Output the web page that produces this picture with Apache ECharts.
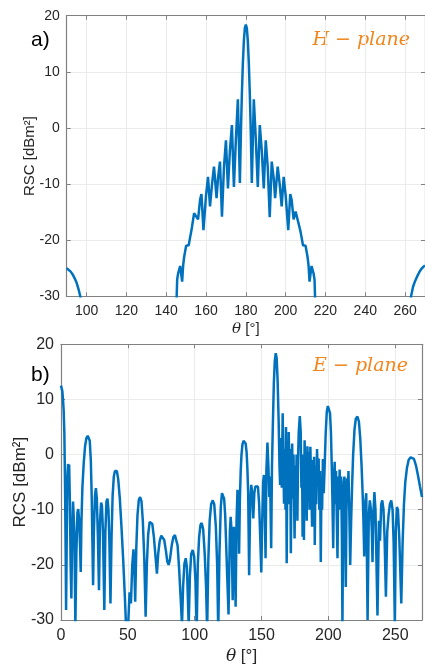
<!DOCTYPE html>
<html>
<head>
<meta charset="utf-8">
<script src="https://cdn.jsdelivr.net/npm/echarts@6/dist/echarts.min.js"></script>
<style>html,body{margin:0;padding:0;background:#fff}#c{width:425px;height:666px}</style>
</head>
<body>
<div id="c"></div>
<script>
// ---- (a) H-plane ----
const thetaH = [90,91,92,93,94,95,96,97,98,99,144,145,145.5,146,147,148,148.5,149,150,151.3,152,152.7,154,155,156,157,157.7,158.7,160,161,162,163,164,165.3,166,167,168,169,170,171,172,173,174,175,176,177,177.5,178,178.5,179,179.5,180,180.5,181,181.5,182,182.5,183,184,185,186,187,188,189,190,191,192,193,194,194.7,196,197,198,199,200,201.3,202.3,203,204,205,206,207.3,208,208.7,210,211,211.5,212,213,214,214.5,215,216,261,262,263,264,265,266,267,268,269,270];
const rcsH = [-25.0,-25.2,-25.6,-26.1,-26.8,-27.6,-28.8,-30.3,-33,-40,-40,-33,-27,-25.9,-24.6,-27.4,-24.5,-23,-21,-20.9,-19.5,-18.2,-15.2,-14.9,-16.3,-12.8,-11.8,-18.2,-12,-8.7,-14,-10,-6.9,-12.5,-9,-6,-15.8,-7,-2.2,-10.8,-4,0.5,-10.5,-2,5.1,-9.8,-1,6,11.5,15.5,17.8,18.4,17.8,15.5,11.5,6,-1,-9.8,5.1,-2,-10.5,0.5,-4,-10.8,-2.2,-7,-15.9,-6,-9,-12.5,-6.9,-10,-14,-8.7,-12,-18.2,-11.8,-12.8,-16.3,-14.9,-15.2,-18.2,-19.5,-20.9,-21,-23,-24.5,-27.4,-24.6,-25.9,-27,-33,-40,-40,-33,-30,-28.3,-27.3,-26.5,-25.8,-25.2,-24.8,-24.5];

// ---- (b) E-plane ----
const thetaE = [0,0.5,1,1.5,2,2.5,3,3.5,3.8,4.3,4.8,5.3,5.7,6.1,6.6,7.2,7.75,8.4,9,9.4,10,10.75,11.5,12.3,12.9,13.6,14.3,14.75,15.3,16,17,18,19,20,20.8,21.5,22.3,23,23.5,24,24.6,25.4,26.1,26.8,27.6,28.4,29.2,30,30.6,31.4,32.4,33.2,34,34.75,35.5,36.2,37,37.8,38.6,39.5,40.3,41,41.8,42.8,44,45.2,46.5,47.8,48.8,49.5,50.2,51.3,52.3,53.3,54.2,54.8,55.5,56.3,57.2,58.2,59.2,60.2,61.2,62.3,63.3,64.2,65.2,66.3,67.3,68.3,69.5,70.7,71.75,72.7,73.8,75,76,77.2,78.5,79.5,80.5,81.5,82.8,84,85.2,86.2,87.2,88.3,89.5,90.5,91.3,92.3,93.3,94.2,95.5,96.4,97.4,98.5,99.6,100.6,101.5,102.3,103.3,104.3,105.2,106.3,107.5,108.5,109.3,110.2,111.2,112.3,113.5,114.6,115.8,116.8,117.6,118.5,119.5,120.4,121.2,122,122.8,123.5,124.3,125.3,126.3,126.9,127.6,128.4,129.3,130,130.6,131.3,132,132.7,133.2,133.8,134.4,135,135.7,136.5,137.3,138.1,138.8,139.4,140,140.7,141.5,142.3,143,143.8,144.6,145.3,146.3,147.3,148.2,149,149.8,150.5,151.2,151.8,152.4,153,153.6,154.4,155.1,155.8,156.4,157.2,157.8,158.5,159.2,159.9,160.6,161.3,162,162.8,163.4,163.9,164.5,165.1,165.8,166.4,166.8,167.4,167.9,168.3,168.8,169.3,169.8,170.3,170.9,171.4,171.9,172.4,172.9,173.4,173.9,174.7,175.2,175.7,176.2,176.8,177.3,177.8,178.6,179.3,179.8,180.3,180.7,181.2,181.7,182.2,182.7,183.2,183.8,184.3,184.8,185.4,185.9,186.5,187.2,187.8,188.4,188.8,189.3,189.8,190.4,190.9,191.5,192.1,192.7,193.2,193.75,194.3,194.8,195.3,195.9,196.5,197.2,198,198.8,199.6,200.4,201.2,201.9,202.5,203,203.6,204.2,204.7,205.2,205.7,206.3,206.8,207.4,207.9,208.4,208.9,209.5,210.1,210.5,211,211.5,212,212.5,213,213.5,214,214.5,215,215.6,216.3,217,217.8,218.5,219.5,220.5,221.7,222.8,223.8,224.8,225.6,226.2,226.8,227.5,228.3,229.3,230.2,231,231.8,232.5,233,233.6,234.4,235.2,236.7,237.8,238.6,239.5,240.3,241.2,242,243,244,245,246,247,248,248.8,249.7,250.4,251.2,252,253,254.5,255.5,256.5,257.5,258.7,260,261.5,262.8,264,265.5,267,268.5,270];
const rcsE = [12.5,12.3,11.5,10,8,4,-5,-18,-28.2,-15,-4,-1.7,-3,-1.8,-8,-20,-26.1,-14,-8.5,-8.3,-14,-31,-18,-10.5,-9.9,-12,-17,-21.3,-12,-6,-1.5,1.5,3,3.4,3.5,2.5,-1,-8,-16,-23.7,-14,-7.5,-6.1,-8,-15,-24.6,-12,-8.7,-9.2,-14,-28.2,-14,-8.5,-8,-10,-16,-27,-15,-7.5,-4,-3,-2.8,-3,-4.5,-8,-13,-19,-26,-32,-34,-31,-25,-27,-20,-17.2,-20,-26.7,-17,-11,-8.2,-7.7,-8.5,-12,-19,-29.4,-20,-14.5,-12.2,-11.9,-12.6,-15,-18.5,-21.6,-18,-15.7,-14.7,-14.6,-15.5,-17.5,-19.4,-20,-19,-16.5,-15,-14.6,-14.7,-16.5,-20.5,-26,-31,-24,-19.8,-18.8,-20.5,-31,-22,-18,-17.3,-18.5,-23,-32,-20,-15,-12.8,-12.4,-13.5,-18,-24,-32,-19,-12,-9,-8.3,-9,-13,-20,-32,-18,-9.5,-7,-6.7,-8,-11,-16,-22,-29,-14,-11.3,-14,-26.4,-13.1,-18,-27.6,-12,-6.4,-9,-18,-8,-3,0,1.8,2.5,2.6,2,0.5,-2.5,-7,-21.9,-9,-5.5,-7,-11.6,-7,-5.8,-5.5,-5.8,-9,-15,-21.4,-12,-5,-3.7,-10,-18.8,-3,2.2,-2,-7.7,-4,-17,-2,6,13,17,18.4,17.5,13.5,6,-2,-5.5,3,-6,7.5,-3,-8.9,1,-10,5,-19.7,-1,-9,4.1,-4,1,-17.9,-3,2,-8,0,-15.2,-2,-9,0,-12,-1,4,7,4,-6,-1,-14.9,0,-15.5,2.6,-4,0,-12,1.5,-6,0.5,-10,1.4,-6,-13.1,-1,-8,-0.4,-16.4,-2,-9,1,-5,-0.7,-10,-3,-19.5,-5,-10,-0.8,-7,-2,4,7.8,8.8,9,7.5,4,-2,-8,-17,-4,-1.3,-9,-3,-12,-18.8,-4,-10,-2.7,-8,-4,-15,-31,-12,-5,-4,-14,-24,-10,-4.3,-7,-3,-10,-20,-12,-5,0,4.5,6.5,6.9,6,3,-2,-7,-12,-18.5,-9,-7,-30,-11,-8.3,-10,-14,-19.5,-11,-6.8,-10,-29.2,-12,-15.6,-9,-8.3,-10,-15,-25.8,-14,-11,-9,-8.3,-10,-16,-31,-14,-9.5,-10,-15,-27,-16,-9,-5,-2.5,-1,-0.5,-0.4,-0.8,-2,-3.8,-5.8,-7.7];

const yTicks = [-30, -20, -10, 0, 10, 20];
const xTicksA = [100, 120, 140, 160, 180, 200, 220, 240, 260];
const xTicksB = [0, 50, 100, 150, 200, 250];

const zip = (xs, ys) => xs.map((x, i) => [x, ys[i]]);

const AX = '#808080', GRID = '#ebebeb', TXT = '#262626', BLUE = '#0072BD', ORANGE = '#F0861E';

function xMain(grid, min, max, fs, gap, extra) {
  return Object.assign({
    gridIndex: grid, type: 'value', min: min, max: max,
    axisLine: { show: true, onZero: false, lineStyle: { color: AX, width: 1.2 } },
    axisTick: { inside: true, length: 4, lineStyle: { color: AX } },
    axisLabel: { color: TXT, fontSize: fs, margin: 8, fontFamily: 'Liberation Sans', showMaxLabel: false },
    splitLine: { show: true, lineStyle: { color: GRID, width: 1 } },
    name: '{i|θ} [°]', nameLocation: 'middle', nameGap: gap, nameMoveOverlap: false,
    nameTextStyle: { color: TXT, fontSize: fs + 1, fontFamily: 'Liberation Sans', verticalAlign: 'top',
      rich: { i: { fontStyle: 'italic', fontFamily: 'DejaVu Serif', fontSize: fs + 1, color: TXT } } }
  }, extra);
}
function xTop(grid, min, max, extra) {
  return Object.assign({
    gridIndex: grid, type: 'value', min: min, max: max, position: 'top',
    axisLine: { show: true, onZero: false, lineStyle: { color: AX, width: 1.2 } },
    axisTick: { inside: true, length: 4, lineStyle: { color: AX } },
    axisLabel: { show: false }, splitLine: { show: false }
  }, extra);
}
function yMain(grid, fs, nfs, name, gap) {
  return {
    gridIndex: grid, type: 'value', min: -30, max: 20, interval: 10,
    axisLine: { show: true, onZero: false, lineStyle: { color: AX, width: 1.2 } },
    axisTick: { inside: true, length: 4, lineStyle: { color: AX } },
    axisLabel: { color: TXT, fontSize: fs, margin: 7, fontFamily: 'Liberation Sans' },
    splitLine: { show: true, lineStyle: { color: GRID, width: 1 } },
    name: name, nameLocation: 'middle', nameGap: gap, nameMoveOverlap: false,
    nameTextStyle: { color: TXT, fontSize: nfs, fontFamily: 'Liberation Sans' }
  };
}
function yRight(grid) {
  return {
    gridIndex: grid, type: 'value', min: -30, max: 20, interval: 10, position: 'right',
    axisLine: { show: true, onZero: false, lineStyle: { color: AX, width: 1.2 } },
    axisTick: { inside: true, length: 4, lineStyle: { color: AX } },
    axisLabel: { show: false }, splitLine: { show: false }
  };
}

const chart = echarts.init(document.getElementById('c'), null, { renderer: 'canvas' });
chart.setOption({
  backgroundColor: '#fff',
  animation: false,
  grid: [
    { left: 66.7, right: -1.7, top: 15.7, bottom: 369.7 },
    { left: 61, right: 3, top: 344.3, bottom: 46 }
  ],
  xAxis: [
    xMain(0, 90, 270, 14, 25, { splitNumber: 9, minInterval: 20, maxInterval: 20, axisLabel: { color: TXT, fontSize: 14, margin: 8, fontFamily: 'Liberation Sans', showMinLabel: false, showMaxLabel: false } }),
    xTop(0, 90, 270, { splitNumber: 9, minInterval: 20, maxInterval: 20 }),
    xMain(1, 0, 270, 16, 28, { interval: 50 }),
    xTop(1, 0, 270, { interval: 50 })
  ],
  yAxis: [
    yMain(0, 14, 15, 'RSC [dBm²]', 29),
    yRight(0),
    yMain(1, 16, 17, 'RCS [dBm²]', 32),
    yRight(1)
  ],
  series: [
    { type: 'line', xAxisIndex: 0, yAxisIndex: 0, data: zip(thetaH, rcsH), showSymbol: false, clip: true,
      lineStyle: { color: BLUE, width: 2.5 }, z: 5 },
    { type: 'line', xAxisIndex: 2, yAxisIndex: 2, data: zip(thetaE, rcsE), showSymbol: false, clip: true,
      lineStyle: { color: BLUE, width: 2.5 }, z: 5 }
  ],
  graphic: [
    { type: 'text', left: 31, top: 30, style: { text: 'a)', fontSize: 21, fontFamily: 'Liberation Sans', fill: '#000' } },
    { type: 'text', left: 31, top: 365, style: { text: 'b)', fontSize: 21, fontFamily: 'Liberation Sans', fill: '#000' } },
    { type: 'text', right: 15, top: 31, style: { text: 'H − plane', fontSize: 19, fontStyle: 'italic', fontFamily: 'DejaVu Serif', fill: ORANGE } },
    { type: 'text', right: 17, top: 357, style: { text: 'E − plane', fontSize: 19, fontStyle: 'italic', fontFamily: 'DejaVu Serif', fill: ORANGE } }
  ]
});
</script>
</body>
</html>
